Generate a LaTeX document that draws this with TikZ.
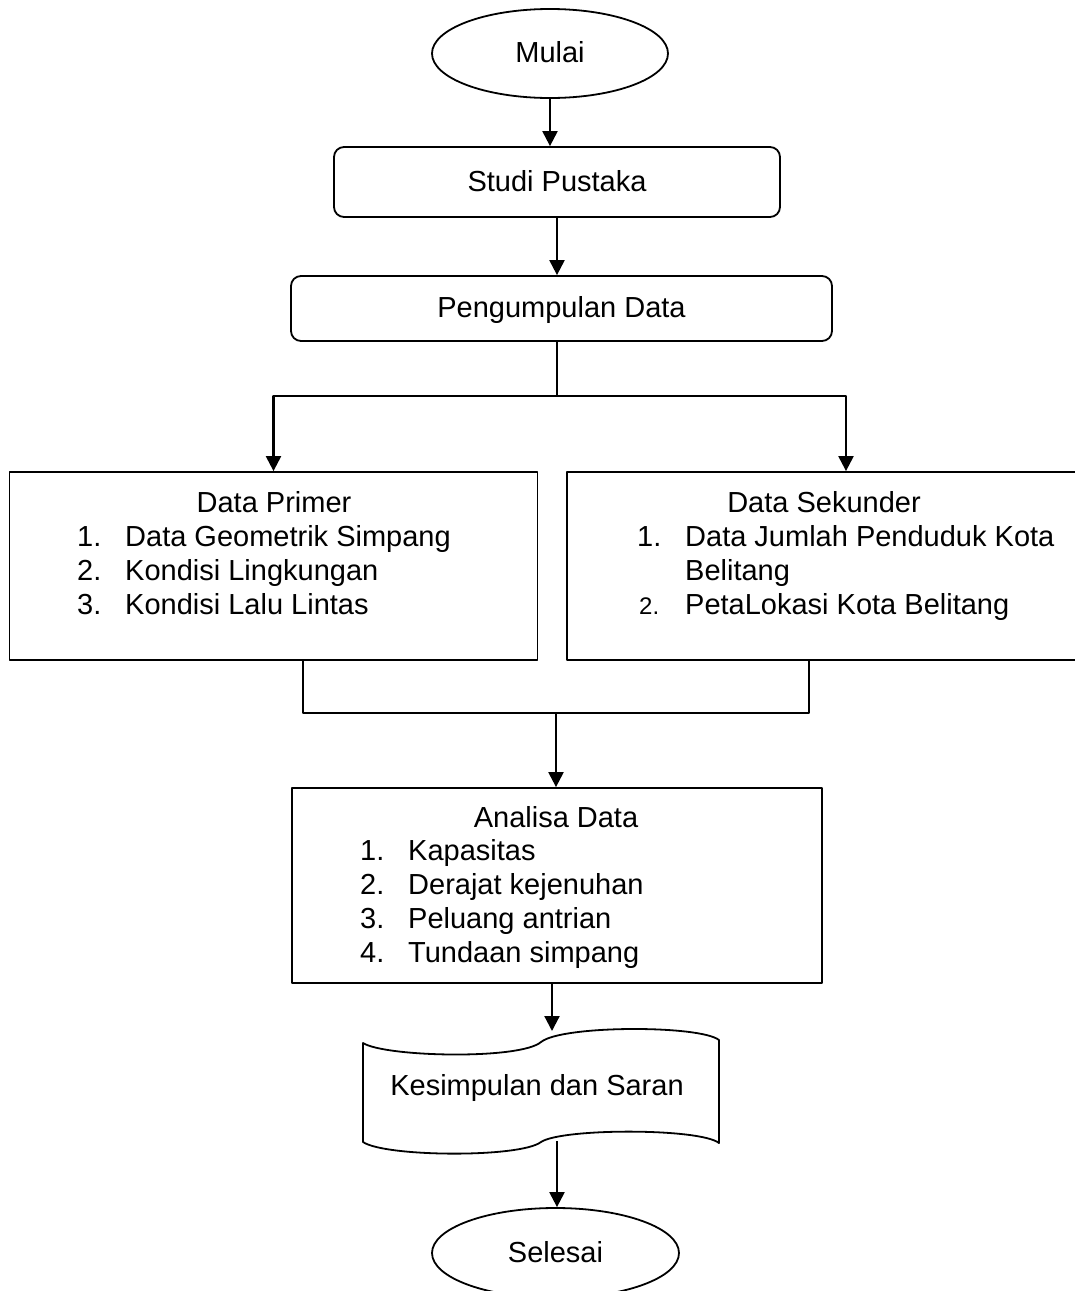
\documentclass[tikz,border=0pt]{standalone}
\usepackage{fontspec}
\setmainfont{Liberation Sans}
\usetikzlibrary{arrows.meta,shapes.geometric,positioning}
\tikzset{
  terminal/.style={draw, ellipse, line width=1.8pt, inner sep=0pt, text height=18pt, text depth=0pt},
  stepbox/.style={draw, rectangle, rounded corners=10pt, line width=1.8pt, inner sep=0pt, text height=18pt, text depth=0pt},
  listbox/.style={draw, rectangle, line width=1.8pt, inner sep=0pt},
  title/.style={anchor=base, inner sep=0pt},
  txt/.style={anchor=base west, inner sep=0pt},
  link/.style={line width=2.2pt},
  arrow/.style={link, ->}
}
\begin{document}
\begin{tikzpicture}[x=1pt, y=-1pt, font=\fontsize{29}{34}\selectfont, line join=round, >={Triangle[length=15pt,width=15pt]}]
	\useasboundingbox (0,0) rectangle (1075,1291);
	\clip (0,0) rectangle (1075,1291);
	\fill[white] (0,0) rectangle (1075,1291);
	% start and the two rounded steps
	\node[terminal, minimum width=236, minimum height=89] (mulai) at (550,53.5) {Mulai};
	\node[stepbox, minimum width=446, minimum height=70] (studi) at (557,182) {Studi Pustaka};
	\node[stepbox, minimum width=541, minimum height=65] (kumpul) at (561.5,308.5) {Pengumpulan Data};
	\draw[arrow] (mulai.south) -- (mulai.south |- studi.north);
	\draw[arrow] (studi.south) -- (studi.south |- kumpul.north);
	% split into primary and secondary data
	\node[listbox, minimum width=528, minimum height=188] (primer) at (273.5,566) {};
	\node[listbox, minimum width=558, minimum height=188] (sekunder) at (846,566) {};
	\coordinate (split) at (557,396);
	\draw[link] (split |- kumpul.south) -- (split);
	\draw[arrow] (split) -| (primer.north);
	\draw[arrow] (split) -| (sekunder.north);
	\node[title] (primertitle) at (274,512) {Data Primer};
	\foreach \t [count=\i] in {Data Geometrik Simpang, Kondisi Lingkungan, Kondisi Lalu Lintas} {
		\node[txt] (primernum\i) at (77,512+34*\i) {\i.};
		\node[txt] (primer\i) at (125,512+34*\i) {\t};}
	\node[title] (sekundertitle) at (824,512) {Data Sekunder};
	\node[txt] (sekundernum1) at (637,546) {1.};
	\node[txt] (sekunder1) at (685,546) {Data Jumlah Penduduk Kota};
	\node[txt] (sekunder1b) at (685,580) {Belitang};
	\node[txt, font=\fontsize{24}{28}\selectfont] (sekundernum2) at (639,614) {2.};
	\node[txt] (sekunder2) at (685,614) {PetaLokasi Kota Belitang};
	% merge into the analysis
	\node[listbox, minimum width=530, minimum height=195] (analisa) at (557,885.5) {};
	\coordinate (merge) at (556,713);
	\draw[link] ([xshift=29.5]primer.south) |- (merge) -| ([xshift=-37]sekunder.south);
	\draw[arrow] (merge) -- (merge |- analisa.north);
	\node[title] (analisatitle) at (556,827) {Analisa Data};
	\foreach \t [count=\i] in {Kapasitas, Derajat kejenuhan, Peluang antrian, Tundaan simpang} {
		\node[txt] (analisanum\i) at (360,827+33.8*\i) {\i.};
		\node[txt] (analisa\i) at (408,827+33.8*\i) {\t};}
	% conclusion (punched tape) and end
	\draw[line width=1.8pt] (363,1043) .. controls (385,1057) and (520,1060) .. (541,1042)
		.. controls (562,1025) and (700,1025) .. (719,1040) -- (719,1143)
		.. controls (700,1128) and (562,1128) .. (541,1142)
		.. controls (520,1158) and (385,1157) .. (363,1142) -- cycle;
	\node[title] (kesimpulan) at (537,1095) {Kesimpulan dan Saran};
	\coordinate (kestop) at (552,1031);
	\coordinate (kesbot) at (557,1141);
	\node[terminal, minimum width=247, minimum height=90] (selesai) at (555.5,1253) {Selesai};
	\draw[arrow] (kestop |- analisa.south) -- (kestop);
	\draw[arrow] (kesbot) -- (kesbot |- selesai.north);
\end{tikzpicture}
\end{document}
